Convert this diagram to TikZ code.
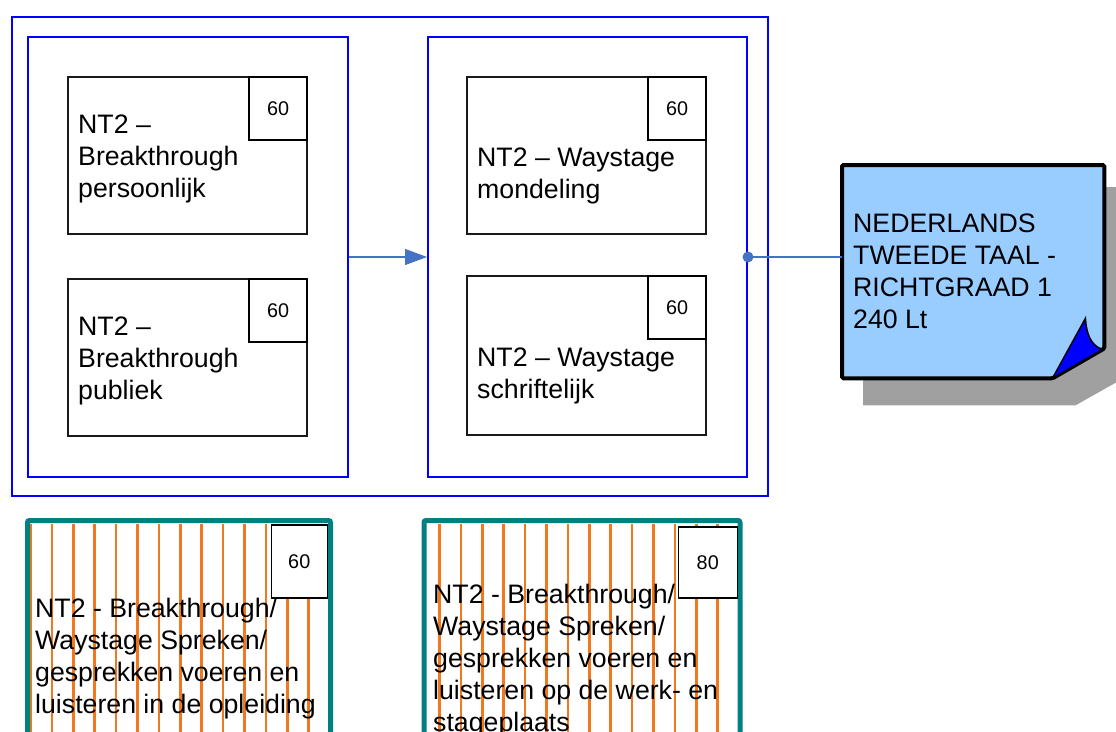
\documentclass[tikz,border=0pt]{standalone}
\usepackage{fontspec}
\setmainfont{Liberation Sans}
\usetikzlibrary{positioning,calc,arrows.meta}

\definecolor{frameblue}{RGB}{0,0,255}
\definecolor{linkblue}{RGB}{68,114,196}
\definecolor{notefill}{RGB}{153,204,255}
\definecolor{shadowgray}{RGB}{160,160,160}
\definecolor{tealedge}{RGB}{0,128,128}
\definecolor{stripeorange}{RGB}{242,120,30}

\tikzset{
	frame/.style={draw=frameblue, line width=2pt, anchor=north west, inner sep=0pt},
	module/.style={draw=black!90, line width=1.8pt, minimum width=239pt, minimum height=157pt, anchor=north west, inner sep=0pt},
	hours/.style={draw=black, fill=white, line width=1.5pt, minimum width=58pt, minimum height=63pt, anchor=north east, inner sep=0pt, font=\fontsize{19.8}{24}\selectfont},
	caption/.style={anchor=north west, align=left, inner sep=0pt, font=\fontsize{26.7}{32}\selectfont},
	link/.style={draw=linkblue, line width=1.2pt},
	stripes/.style={path picture={\foreach \i in {0,...,14} \draw[stripeorange, line width=2.5pt] ($(path picture bounding box.north west)+(#1+21.4*\i,3)$) -- ++(0,400);}},
	practice/.style={draw=tealedge, line width=5pt, rounded corners=2pt, anchor=north west, inner sep=0pt, minimum height=240pt}
}

\begin{document}
\begin{tikzpicture}[x=1pt,y=-1pt]
		\clip (0,0) rectangle (1116,731);
		\node[frame, minimum width=756pt, minimum height=479pt] (outer) at (11,16) {};
		\node[frame, minimum width=320pt, minimum height=440pt] (left) at (27,36) {};
		\node[frame, minimum width=319pt, minimum height=440pt] (right) at (427,36) {};

		\node[module] (bpers) at (67,76) {};
		\node[hours] (bpersh) at (bpers.north east) {60};
		\node[caption] (bperst) at ($(bpers.north west)+(11,39)$) {NT2 –\\Breakthrough\\persoonlijk};
		\node[module] (bpub) at (67,278) {};
		\node[hours] (bpubh) at (bpub.north east) {60};
		\node[caption] (bpubt) at ($(bpub.north west)+(11,38.5)$) {NT2 –\\Breakthrough\\publiek};
		\node[module] (wmond) at (466,76) {};
		\node[hours] (wmondh) at (wmond.north east) {60};
		\node[caption] (wmondt) at ($(wmond.north west)+(11,72)$) {NT2 – Waystage\\mondeling};
		\node[module, minimum height=159pt] (wschr) at (466,275) {};
		\node[hours] (wschrh) at (wschr.north east) {60};
		\node[caption] (wschrt) at ($(wschr.north west)+(11,73)$) {NT2 – Waystage\\schriftelijk};

		\draw[link, -{Triangle[length=22pt, width=16pt]}] (left.east) -- (right.west);

		\node[minimum width=262pt, minimum height=213pt, anchor=north west, inner sep=0pt] (note) at (842,165) {};
		\fill[shadowgray] ($(note.north west)+(21,22)$) -- ($(note.north east)+(26,22)$) -- ($(note.south east)+(26,-4)$) -- ($(note.south east)+(-29,27)$) -- ($(note.south west)+(21,27)$) -- cycle;
		\filldraw[draw=black, fill=notefill, line width=4pt, rounded corners=1.5pt] (note.north west) -- (note.north east) -- ($(note.south east)+(0,-30)$) -- ($(note.south east)+(-52,0)$) -- (note.south west) -- cycle;
		\filldraw[fill=frameblue, draw=black, line width=1.5pt] ($(note.south east)+(-52,0)$) -- ($(note.south east)+(-19,-60)$) .. controls ($(note.south east)+(-18,-45)$) and ($(note.south east)+(-14,-33)$) .. ($(note.south east)+(-2,-29)$) -- cycle;
		\node[caption] (notet) at ($(note.north west)+(11,49)$) {NEDERLANDS\\TWEEDE TAAL -\\RICHTGRAAD 1\\240 Lt};

		\draw[link] (right.east) -- (right.east -| note.west);
		\fill[linkblue] (right.east) circle[radius=5.5pt];

		\node[practice, stripes=3, minimum width=303pt] (opleiding) at (25,518) {};
		\node[hours, minimum width=56pt, minimum height=73pt] (opleidingh) at ($(opleiding.north east)+(-5,6)$) {60};
		\node[caption] (opleidingt) at ($(opleiding.north west)+(10,80)$) {NT2 - Breakthrough/\\Waystage Spreken/\\gesprekken voeren en\\luisteren in de opleiding};
		\node[practice, stripes=15.5, minimum width=316pt] (werkplaats) at (421.5,518) {};
		\node[hours, minimum width=59pt, minimum height=71pt] (werkplaatsh) at ($(werkplaats.north east)+(-4.5,8)$) {80};
		\node[caption] (werkplaatst) at ($(werkplaats.north west)+(11.5,66)$) {NT2 - Breakthrough/\\Waystage Spreken/\\gesprekken voeren en\\luisteren op de werk- en\\stageplaats};
	\end{tikzpicture}
\end{document}
